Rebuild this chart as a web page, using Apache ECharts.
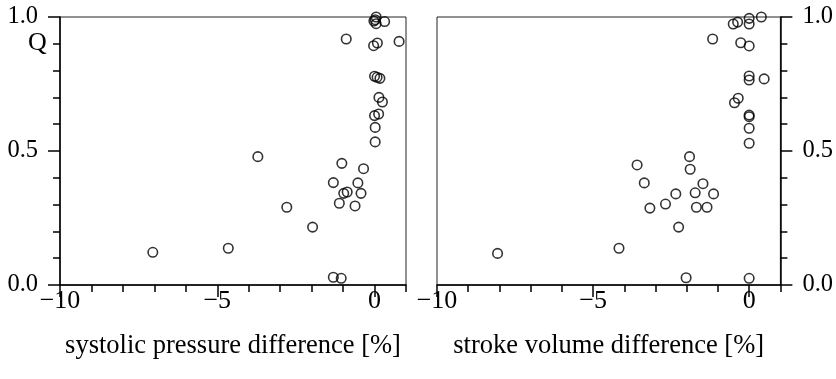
<!DOCTYPE html>
<html><head><meta charset="utf-8">
<script src="https://cdn.jsdelivr.net/npm/echarts@6/dist/echarts.min.js"></script>
<style>html,body{margin:0;padding:0;background:#fff}#c{width:836px;height:379px}</style>
</head><body><div id="c"></div>
<script>
// Left panel: systolic pressure difference [%] vs Q
const leftX = [-7.05,-4.65,-3.71,-2.79,-1.97,-1.31,-1.06,-1.31,-1.04,-1.12,-0.98,-0.87,-0.62,-0.53,-0.43,-0.35,-0.90,0.78,0.02,0.02,0.00,0.13,0.14,0.25,0.00,0.08,0.17,-0.03,0.09,0.05,0.02,-0.02,0.05,0.32];
const leftY = [0.122,0.137,0.479,0.290,0.216,0.029,0.025,0.382,0.454,0.305,0.342,0.347,0.295,0.381,0.342,0.434,0.918,0.909,0.534,0.588,0.632,0.638,0.700,0.683,0.779,0.775,0.771,0.893,0.903,1.000,0.990,0.985,0.975,0.983];
// Right panel: stroke volume difference [%] vs Q
const rightX = [-8.06,-4.17,-3.59,-3.36,-3.18,-2.68,-2.35,-2.26,-2.02,-1.91,-1.89,-1.73,-1.69,-1.48,-1.35,-1.14,-1.17,-0.51,-0.37,0.00,0.00,0.39,-0.27,0.00,0.00,0.00,0.48,-0.47,-0.35,0.00,0.00,0.00,0.00,0.00];
const rightY = [0.118,0.137,0.448,0.381,0.287,0.302,0.340,0.216,0.027,0.479,0.432,0.344,0.290,0.378,0.290,0.340,0.918,0.974,0.981,0.995,0.974,1.000,0.904,0.892,0.780,0.765,0.769,0.680,0.697,0.634,0.628,0.585,0.529,0.025];
const xMajorTicks = [-10, -5, 0];
const xMinorTicks = [-10,-9,-8,-7,-6,-5,-4,-3,-2,-1,0,1];
const xTickLabels = ['−10','−5','0'];
const yTickLabels = ['0.0','0.5','1.0'];
const xTitles = ['systolic pressure difference [%]','stroke volume difference [%]'];

const FONT = 'Liberation Serif';
const pairs = (xs, ys) => xs.map((x, i) => [x, ys[i]]);
const fx = v => { const i = xMajorTicks.findIndex(t => Math.abs(t - v) < 1e-6); return i >= 0 ? xTickLabels[i] : ''; };
const fy = v => { const r = Math.round(v * 2); return Math.abs(v*2 - r) < 1e-6 ? yTickLabels[r] : ''; };

const lineStyle = {color:'#000', width:1.5};
function xMajor(gi, name){
  return {gridIndex:gi, type:'value', min:-10, max:1, interval:5,
    axisLine:{show:true, onZero:false, lineStyle},
    axisTick:{show:true, inside:false, length:12, customValues:xMajorTicks, lineStyle},
    axisLabel:{show:true, customValues:xMajorTicks, formatter:fx, color:'#000', fontFamily:FONT, fontSize:26, margin:3},
    splitLine:{show:false},
    name:name, nameLocation:'middle', nameGap:48,
    nameTextStyle:{color:'#000', fontFamily:FONT, fontSize:26.5}};
}
function xMinor(gi){
  return {gridIndex:gi, type:'value', min:-10, max:1, interval:1, position:'bottom',
    axisLine:{show:false, onZero:false},
    axisTick:{show:true, inside:false, length:7, customValues:xMinorTicks, lineStyle},
    axisLabel:{show:false}, splitLine:{show:false}};
}
function yAx(gi, pos){
  return {gridIndex:gi, type:'value', min:0, max:1, interval:0.5, position:pos,
    axisLine:{show:true, onZero:false, lineStyle},
    axisTick:{show:true, inside:false, length:12, lineStyle},
    minorTick:{show:true, splitNumber:5, length:7, lineStyle},
    axisLabel:{show:true, formatter:fy, color:'#000', fontFamily:FONT, fontSize:24.5, margin:22, showMinLabel:true, showMaxLabel:true},
    splitLine:{show:false}, minorSplitLine:{show:false}};
}
const sym = {symbol:'circle', symbolSize:9.5, itemStyle:{color:'rgba(0,0,0,0)', borderColor:'#000', borderWidth:1.6}};
const chart = echarts.init(document.getElementById('c'), null, {renderer:'canvas'});
chart.setOption({
  animation:false,
  grid:[
    {left:60, top:17, width:346, height:268, show:true, borderColor:'#222', borderWidth:1, backgroundColor:'transparent'},
    {left:437, top:17, width:345, height:268, show:true, borderColor:'#222', borderWidth:1, backgroundColor:'transparent'}
  ],
  xAxis:[xMajor(0, xTitles[0]), xMajor(1, xTitles[1]), xMinor(0), xMinor(1)],
  yAxis:[yAx(0,'left'), yAx(1,'right')],
  graphic:[{type:'text', left:28, top:30, style:{text:'Q', fontFamily:FONT, fontSize:26, fill:'#000'}}],
  series:[
    Object.assign({type:'scatter', xAxisIndex:0, yAxisIndex:0, data:pairs(leftX,leftY)}, sym),
    Object.assign({type:'scatter', xAxisIndex:1, yAxisIndex:1, data:pairs(rightX,rightY)}, sym)
  ]
});
</script></body></html>
